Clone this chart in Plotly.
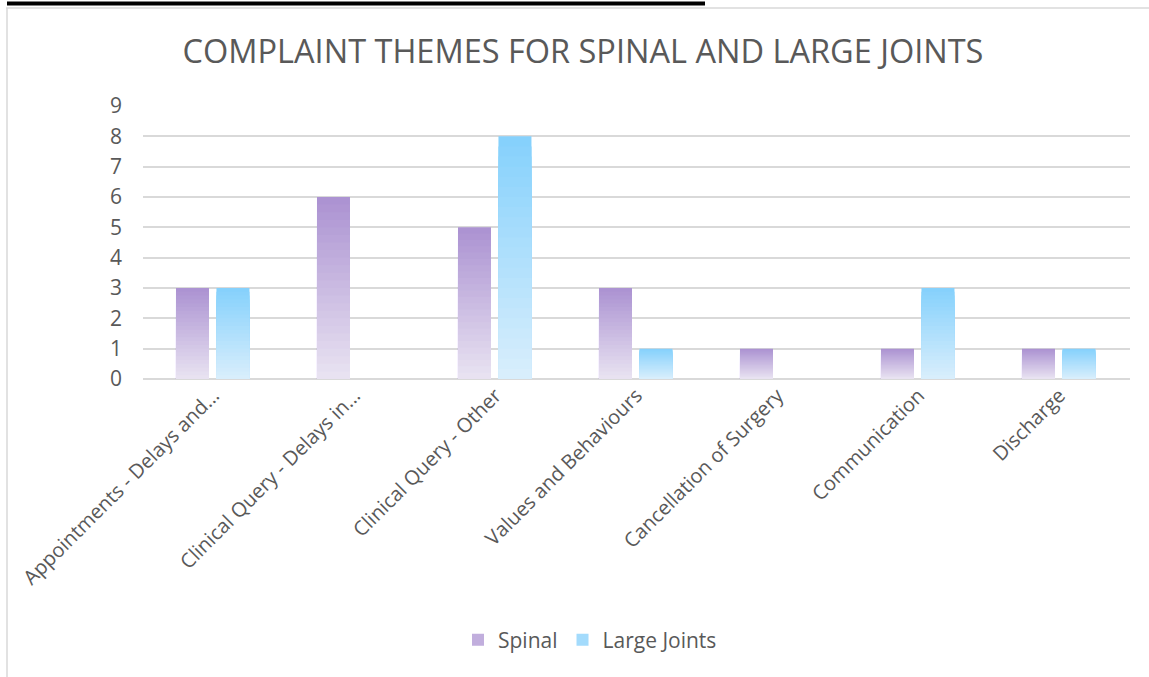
import plotly.graph_objects as go

# Complaint counts per theme
categories = [
    "Appointments - Delays and...",
    "Clinical Query - Delays in...",
    "Clinical Query - Other",
    "Values and Behaviours",
    "Cancellation of Surgery",
    "Communication",
    "Discharge",
]
spinal = [3, 6, 5, 3, 1, 1, 1]
large_joints = [3, 0, 8, 1, 0, 3, 1]
y_ticks = list(range(0, 10))

FONT = "Open Sans"
GREY = "#595959"
GRID = "#d9d9d9"

W, H = 1149, 677
L, R, T, B = 143, 19, 106, 298


def hex_to_rgb(h):
    h = h.lstrip("#")
    return tuple(int(h[i:i + 2], 16) for i in (0, 2, 4))


def mix(c1, c2, t):
    a, b = hex_to_rgb(c1), hex_to_rgb(c2)
    return "rgb({},{},{})".format(*[round(a[i] + (b[i] - a[i]) * t) for i in range(3)])


fig = go.Figure()

BANDS = 24
BAR_W = 0.234
series = [
    ("Spinal", spinal, -0.266, "#ac93d2", "#e8e2f1"),
    ("Large Joints", large_joints, 0.021, "#86d1fc", "#d8eefc"),
]

# Each bar is built from stacked overlaid bands that fade from top to bottom
for name, values, offset, top_c, bot_c in series:
    for k in range(BANDS):
        frac = (BANDS - k) / BANDS
        fig.add_trace(go.Bar(
            x=categories,
            y=[v * frac for v in values],
            name=name,
            offset=offset,
            width=BAR_W,
            marker=dict(color=mix(top_c, bot_c, k / (BANDS - 1)), line=dict(width=0)),
            showlegend=(k == BANDS // 3),
            legendgroup=name,
            customdata=values,
            hovertemplate="%{x}<br>" + name + ": %{customdata}<extra></extra>",
        ))


def px_x(px):
    return (px - L) / (W - L - R)


def px_y(py):
    return (H - B - py) / (H - T - B)


shapes = [
    # outer frame (left and top edges)
    dict(type="line", xref="paper", yref="paper", x0=px_x(7), x1=px_x(7),
         y0=px_y(8), y1=px_y(700), line=dict(color=GRID, width=1.5)),
    dict(type="line", xref="paper", yref="paper", x0=px_x(6), x1=px_x(1160),
         y0=px_y(8), y1=px_y(8), line=dict(color=GRID, width=1.5)),
    # heading rule above the chart
    dict(type="line", xref="paper", yref="paper", x0=px_x(7), x1=px_x(705),
         y0=px_y(3.5), y1=px_y(3.5), line=dict(color="black", width=4)),
]

fig.update_layout(
    width=W, height=H,
    margin=dict(l=L, r=R, t=T, b=B),
    paper_bgcolor="white",
    plot_bgcolor="white",
    barmode="overlay",
    title=dict(
        text="COMPLAINT THEMES FOR SPINAL AND LARGE JOINTS",
        x=583 / W, xanchor="center", xref="container",
        y=1 - 52 / H, yanchor="middle", yref="container",
        font=dict(family=FONT, size=32.5, color=GREY),
    ),
    font=dict(family=FONT, color=GREY),
    legend=dict(
        orientation="h", x=px_x(590), xanchor="center", y=px_y(640), yanchor="middle",
        font=dict(family=FONT, size=21, color=GREY),
        traceorder="normal", itemsizing="constant",
    ),
    shapes=shapes,
    showlegend=True,
)

fig.update_xaxes(
    type="category",
    categoryorder="array", categoryarray=categories,
    tickangle=-45,
    tickfont=dict(family=FONT, size=20, color=GREY),
    showgrid=False,
    showline=False,
    ticks="",
    zeroline=False,
)
fig.update_yaxes(
    range=[0, 9],
    tickvals=y_ticks,
    tickfont=dict(family=FONT, size=21, color=GREY),
    showgrid=True, gridcolor=GRID, gridwidth=1.5,
    zeroline=True, zerolinecolor=GRID, zerolinewidth=1.5,
    showline=False,
    ticks="",
    ticklabelstandoff=20,
    fixedrange=True,
)

fig.write_html("out.html")
